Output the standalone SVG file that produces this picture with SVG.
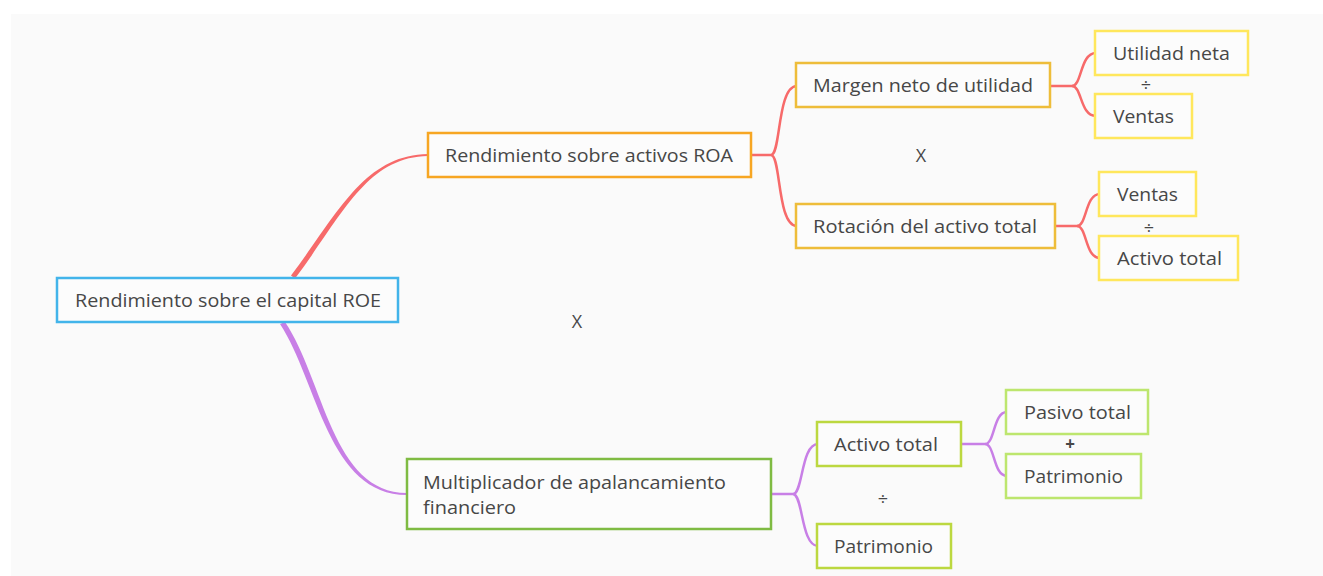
<svg xmlns="http://www.w3.org/2000/svg" width="1323" height="576" viewBox="0 0 1323 576">
<style>
.box{fill:#fcfcfc;stroke-width:2.5}
.t{font-family:"Open Sans","Liberation Sans",sans-serif;font-size:18px;fill:#474747;dominant-baseline:central}
.op{font-family:"Open Sans","Liberation Sans",sans-serif;fill:#474747;text-anchor:middle;dominant-baseline:central}
.red{fill:none;stroke:#f76a6a;stroke-width:2.5}
.pur{fill:none;stroke:#c87fe6;stroke-width:2.5}
.b1{stroke:#42b4ea}
.b2{stroke:#f7a623}
.b3{stroke:#eebd3a}
.b4{stroke:#ffe75c}
.g1{stroke:#7fbb43}
.g2{stroke:#bcd840}
.g3{stroke:#bde66e}
</style>
<rect x="0" y="0" width="1323" height="576" fill="#ffffff"/>
<rect x="11" y="14" width="1312" height="562" fill="#fafafa"/>
<g id="connectors">
<path d="M295,278.5 C342,216.5 366,157 428,156 L428,154 C364,155 338,213.5 291,275.5 Z" fill="#f76a6a"/>
<path d="M280,324 C318,382 328,495 407,495 L407,493 C332,493 324,380 285,322 Z" fill="#c87fe6"/>
<path class="red" d="M751,155 H771 C781,155 777,86 797,86"/>
<path class="red" d="M771,155 C781,155 777,226 797,226"/>
<path class="red" d="M1050,86 H1072 C1082,86 1080,53 1096,53"/>
<path class="red" d="M1072,86 C1082,86 1080,116 1096,116"/>
<path class="red" d="M1055,226 H1077 C1087,226 1085,194 1100,194"/>
<path class="red" d="M1077,226 C1087,226 1085,258 1100,258"/>
<path class="pur" d="M771,494 H793 C803,494 801,444 818,444"/>
<path class="pur" d="M793,494 C803,494 801,546 818,546"/>
<path class="pur" d="M961,444 H985 C995,444 993,412 1007,412"/>
<path class="pur" d="M985,444 C995,444 993,476 1007,476"/>
</g>
<g id="roe"><rect class="box b1" x="57" y="278" width="341" height="44"/><text class="t" x="75" y="300" textLength="306" lengthAdjust="spacingAndGlyphs">Rendimiento sobre el capital ROE</text></g>
<g id="roa"><rect class="box b2" x="428" y="133" width="323" height="44"/><text class="t" x="445" y="155" textLength="288" lengthAdjust="spacingAndGlyphs">Rendimiento sobre activos ROA</text></g>
<g id="margen"><rect class="box b3" x="796" y="63" width="254" height="44"/><text class="t" x="813" y="85" textLength="220" lengthAdjust="spacingAndGlyphs">Margen neto de utilidad</text></g>
<g id="utilidad"><rect class="box b4" x="1095" y="31" width="153" height="44"/><text class="t" x="1113" y="53" textLength="117" lengthAdjust="spacingAndGlyphs">Utilidad neta</text></g>
<g id="ventas1"><rect class="box b4" x="1095" y="94" width="97" height="44"/><text class="t" x="1113" y="116" textLength="61" lengthAdjust="spacingAndGlyphs">Ventas</text></g>
<g id="rotacion"><rect class="box b3" x="796" y="204" width="259" height="44"/><text class="t" x="813" y="226" textLength="224" lengthAdjust="spacingAndGlyphs">Rotación del activo total</text></g>
<g id="ventas2"><rect class="box b4" x="1099" y="172" width="97" height="44"/><text class="t" x="1117" y="194" textLength="61" lengthAdjust="spacingAndGlyphs">Ventas</text></g>
<g id="activo1"><rect class="box b4" x="1099" y="236" width="139" height="44"/><text class="t" x="1117" y="258" textLength="105" lengthAdjust="spacingAndGlyphs">Activo total</text></g>
<g id="multiplicador"><rect class="box g1" x="407" y="459" width="364" height="70"/><text class="t" x="423" y="482" textLength="303" lengthAdjust="spacingAndGlyphs">Multiplicador de apalancamiento</text><text class="t" x="423" y="507" textLength="93" lengthAdjust="spacingAndGlyphs">financiero</text></g>
<g id="activo2"><rect class="box g2" x="817" y="422" width="144" height="44"/><text class="t" x="834" y="444" textLength="104" lengthAdjust="spacingAndGlyphs">Activo total</text></g>
<g id="pasivo"><rect class="box g3" x="1006" y="390" width="142" height="44"/><text class="t" x="1024" y="412" textLength="107" lengthAdjust="spacingAndGlyphs">Pasivo total</text></g>
<g id="patrimonio1"><rect class="box g3" x="1006" y="454" width="135" height="44"/><text class="t" x="1024" y="476" textLength="99" lengthAdjust="spacingAndGlyphs">Patrimonio</text></g>
<g id="patrimonio2"><rect class="box g2" x="817" y="524" width="134" height="44"/><text class="t" x="834" y="546" textLength="99" lengthAdjust="spacingAndGlyphs">Patrimonio</text></g>
<g id="operators">
<text class="op" x="1146" y="84" font-size="18">÷</text>
<text class="op" x="1149" y="227" font-size="18">÷</text>
<text class="op" x="921" y="155" font-size="18">X</text>
<text class="op" x="577" y="321" font-size="18">X</text>
<text class="op" x="1070" y="443" font-size="17" font-weight="bold">+</text>
<text class="op" x="883" y="498" font-size="18">÷</text>
</g>
</svg>
